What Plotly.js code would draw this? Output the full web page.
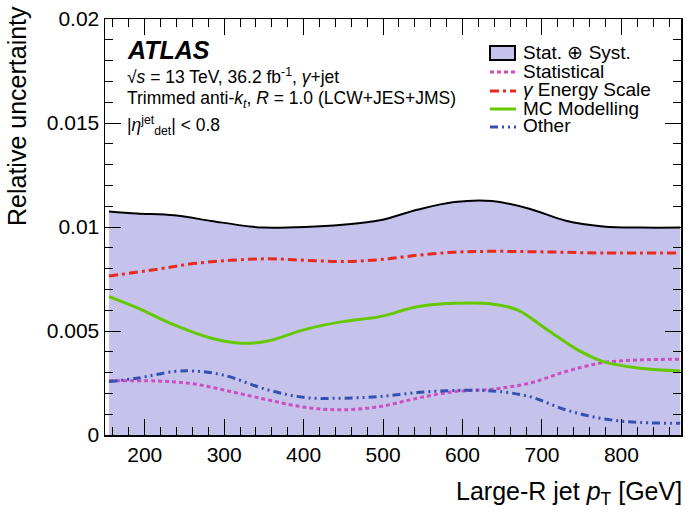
<!DOCTYPE html>
<html><head><meta charset="utf-8">
<script src="https://cdn.plot.ly/plotly-3.0.1.min.js"></script>
<style>body{margin:0;background:#fff}#c{width:685px;height:520px}</style>
</head><body><div id="c"></div>
<script>
// Data (pT in GeV, relative uncertainty)
const totalPt = [155,190,237,284,331,350,402,449,496,543,590,637,684,730,777,824,874];
const totalVal = [0.01075,0.01065,0.01056,0.01029,0.01003,0.00997,0.0100,0.01011,0.01032,0.01083,0.0112,0.01125,0.01088,0.0103,0.01003,0.00997,0.00997];

const egsPt = [155,214,261,308,355,402,449,496,543,590,637,707,777,874];
const egsVal = [0.00764,0.00796,0.00824,0.0084,0.00847,0.0084,0.00834,0.00843,0.00864,0.00879,0.00883,0.0088,0.00875,0.00875];

const mcPt = [155,190,237,284,322,355,402,449,496,543,590,637,669,707,745,777,824,874];
const mcVal = [0.00665,0.00612,0.00529,0.00465,0.00441,0.00452,0.00508,0.00545,0.00569,0.00617,0.00633,0.0063,0.00601,0.00505,0.00409,0.00353,0.00321,0.00308];

const statPt = [155,214,261,308,355,402,449,496,543,590,637,684,730,777,824,874];
const statVal = [0.0026,0.0026,0.00246,0.00209,0.00169,0.00133,0.00121,0.00137,0.00177,0.00209,0.0022,0.00249,0.00305,0.00348,0.00361,0.00364];

const otherPt = [155,190,237,261,298,355,402,449,496,543,590,637,684,730,777,824,874];
const otherVal = [0.00257,0.00273,0.00305,0.00308,0.00289,0.00217,0.0018,0.00177,0.00185,0.00204,0.00214,0.00212,0.00185,0.00121,0.00078,0.0006,0.00057];

const names = ["Stat. \u2295 Syst.","Statistical","<i>\u03b3</i> Energy Scale","MC Modelling","Other"];
const yTickVals = [0, 0.005, 0.01, 0.015, 0.02];
const yTickText = ["0", "0.005", "0.01", "0.015", "0.02"];

const FONT = "Liberation Sans, Arial, Helvetica, sans-serif";

const styles = [
  {color: "#000", width: 2, dash: "solid"},
  {color: "#cc4fbf", width: 3, dash: "4px,3px"},
  {color: "#e8291c", width: 3, dash: "9px,4px,3px,4px"},
  {color: "#66c800", width: 3, dash: "solid"},
  {color: "#3450b0", width: 3, dash: "8px,4px,2px,4px,2px,4px"}
];
const FILL = "#c5c3ec";

const series = [[totalPt, totalVal], [statPt, statVal], [egsPt, egsVal], [mcPt, mcVal], [otherPt, otherVal]];
const traces = series.map((s, i) => {
  const t = {x: s[0], y: s[1], name: names[i], type: "scatter", mode: "lines",
    line: {color: styles[i].color, width: styles[i].width, dash: styles[i].dash, shape: "spline", smoothing: 1}};
  if (i === 0) { t.fill = "tozeroy"; t.fillcolor = FILL; }
  return t;
});

// pixel helpers for the hand-drawn legend / text (plot area 105..681 x 19..435)
const L = 105, T = 19, W = 576, H = 416;
const px = v => (v - L) / W;
const py = v => 1 - (v - T) / H;

const shapes = [];
const annotations = [];
const legendY = [53, 72, 91, 109, 127];
names.forEach((n, i) => {
  if (i === 0) {
    shapes.push({type: "rect", xref: "paper", yref: "paper", x0: px(490), x1: px(515), y0: py(46), y1: py(60),
      fillcolor: FILL, line: {color: "#000", width: 2}});
  } else {
    shapes.push({type: "line", xref: "paper", yref: "paper", x0: px(490), x1: px(516), y0: py(legendY[i]), y1: py(legendY[i]),
      line: {color: styles[i].color, width: styles[i].width, dash: styles[i].dash}});
  }
  annotations.push({text: n, xref: "paper", yref: "paper", x: px(521), y: py(legendY[i] - 1), xanchor: "left", yanchor: "middle",
    showarrow: false, font: {size: 19}});
});

annotations.push(
  {text: "Relative uncertainty", xref: "paper", yref: "paper", x: px(17), y: py(116), xanchor: "center", yanchor: "middle",
   textangle: -90, showarrow: false, font: {size: 25}},
  {text: "Large-R jet <i>p</i><sub>T</sub> [GeV]", xref: "paper", yref: "paper", x: px(684), y: py(493), xanchor: "right", yanchor: "middle",
   showarrow: false, font: {size: 25}},
  {text: "<b><i>ATLAS</i></b>", xref: "paper", yref: "paper", x: px(125), y: py(50), xanchor: "left", yanchor: "middle",
   showarrow: false, font: {size: 25}},
  {text: "\u221a<i>s</i> = 13 TeV, 36.2 fb<sup>-1</sup>, <i>\u03b3</i>+jet", xref: "paper", yref: "paper", x: px(125), y: py(76), xanchor: "left", yanchor: "middle",
   showarrow: false, font: {size: 17.5}},
  {text: "Trimmed anti-<i>k</i><sub><i>t</i></sub>, <i>R</i> = 1.0 (LCW+JES+JMS)", xref: "paper", yref: "paper", x: px(125), y: py(100), xanchor: "left", yanchor: "middle",
   showarrow: false, font: {size: 17.5}},
  {text: "|<i>\u03b7</i><sup>jet</sup><sub>det</sub>| < 0.8", xref: "paper", yref: "paper", x: px(125), y: py(126), xanchor: "left", yanchor: "middle",
   showarrow: false, font: {size: 17.5}}
);

const layout = {
  width: 685, height: 520,
  margin: {l: L, r: 685 - L - W, t: T, b: 520 - T - H},
  paper_bgcolor: "#fff", plot_bgcolor: "#fff",
  font: {family: FONT, color: "#000", size: 21},
  showlegend: false,
  xaxis: {range: [150, 875], showgrid: false, zeroline: false, showline: true, linecolor: "#000", linewidth: 1.5,
          mirror: "ticks", ticks: "inside", ticklen: 16, tickwidth: 1, tickcolor: "#000", dtick: 100, tick0: 0,
          tickfont: {size: 21}, minor: {dtick: 20, ticks: "inside", ticklen: 8, tickcolor: "#000", showgrid: false}},
  yaxis: {range: [0, 0.02], showgrid: false, zeroline: false, showline: true, linecolor: "#000", linewidth: 1.5,
          mirror: "ticks", ticks: "inside", ticklen: 16, tickwidth: 1, tickcolor: "#000",
          tickvals: yTickVals, ticktext: yTickText,
          tickfont: {size: 21}, minor: {dtick: 0.001, ticks: "inside", ticklen: 8, tickcolor: "#000", showgrid: false}},
  shapes: shapes,
  annotations: annotations
};

Plotly.newPlot("c", traces, layout, {displayModeBar: false, staticPlot: true});
</script></body></html>
